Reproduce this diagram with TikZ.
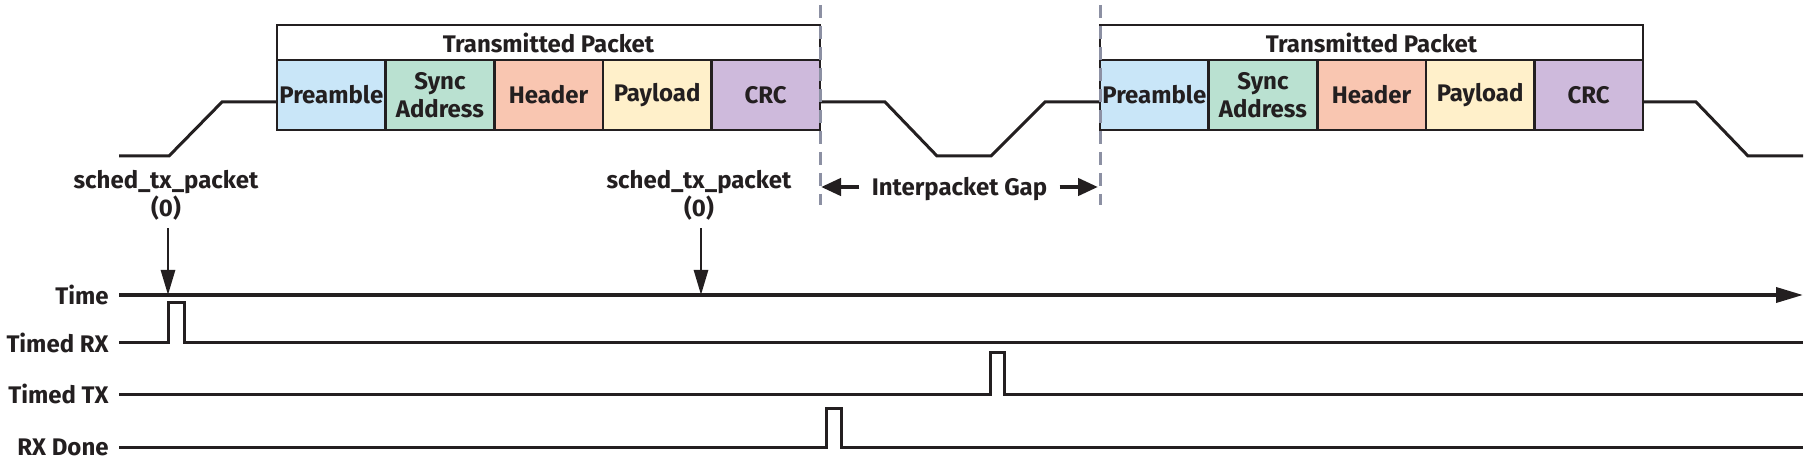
\documentclass[tikz,border=0pt]{standalone}
\usepackage{fontspec}
\setmainfont{Fira Sans}
\usetikzlibrary{positioning,arrows.meta}

\definecolor{preC}{HTML}{C9E6F8}
\definecolor{syncC}{HTML}{BAE1D1}
\definecolor{headC}{HTML}{F9C6B1}
\definecolor{payC}{HTML}{FFF0CA}
\definecolor{crcC}{HTML}{CEBADC}
\definecolor{gapC}{HTML}{8C90A3}
\definecolor{inkC}{HTML}{231F20}

\tikzset{
    txt/.style={font=\bfseries\fontsize{12}{14}\selectfont, text=inkC},
    pkthead/.style={txt, draw=inkC, line width=1.3pt, fill=white, outer sep=0pt,
        minimum width=271.5pt, minimum height=17.5pt, inner sep=0pt},
    field/.style={txt, draw=inkC, line width=1.3pt, outer sep=0pt, align=center,
        minimum width=54.3pt, minimum height=35pt, inner sep=0pt},
    sig/.style={draw=inkC, line width=1.5pt, line join=miter},
    signame/.style={txt, anchor=east, inner sep=5pt},
    gapline/.style={draw=gapC, line width=1.5pt, dash pattern=on 6.5pt off 4pt},
    gaparrow/.style={draw=inkC, line width=2.2pt, -{Triangle[length=10pt,width=8.5pt]}},
    schedarrow/.style={draw=inkC, line width=1.4pt, -{Triangle[length=12.5pt,width=7pt]}},
}

\begin{document}
\begin{tikzpicture}[x=0.5pt,y=-0.5pt]
    \useasboundingbox (0,0) rectangle (1808,459);

    %packet waveform, drawn first so that the boxes cover its ends
    \draw[sig] (119,156) -- (169,156) -- (222,102) -- (277,102);
    \draw[sig] (821,102) -- (885,102) -- (937,156) -- (991,156) -- (1045,102) -- (1100,102);
    \draw[sig] (1643,102) -- (1696,102) -- (1748,156) -- (1803,156);

    %first packet
    \node[pkthead, anchor=north west] (head1) at (277,25) {Transmitted Packet};
    \node[field, fill=preC, anchor=north west] (pre1) at (head1.south west) {Preamble};
    \node[field, fill=syncC, right=0pt of pre1] (sync1) {Sync\\Address};
    \node[field, fill=headC, right=0pt of sync1] (hdr1) {Header};
    \node[field, fill=payC, right=0pt of hdr1] (pay1) {Payload};
    \node[field, fill=crcC, right=0pt of pay1] (crc1) {CRC};

    %second packet
    \node[pkthead, anchor=north west] (head2) at (1100,25) {Transmitted Packet};
    \node[field, fill=preC, anchor=north west] (pre2) at (head2.south west) {Preamble};
    \node[field, fill=syncC, right=0pt of pre2] (sync2) {Sync\\Address};
    \node[field, fill=headC, right=0pt of sync2] (hdr2) {Header};
    \node[field, fill=payC, right=0pt of hdr2] (pay2) {Payload};
    \node[field, fill=crcC, right=0pt of pay2] (crc2) {CRC};

    %interpacket gap
    \draw[gapline] (820,5) -- (820,205);
    \draw[gapline] (1100,5) -- (1100,205);
    \coordinate (gapL) at (821,187);
    \coordinate (gapR) at (1098,187);
    \node[txt, inner sep=6pt, text height=8.2pt, text depth=0pt] (gaplbl) at (959.5,187) {Interpacket Gap};
    \draw[gaparrow] (gaplbl.west) -- (gapL);
    \draw[gaparrow] (gaplbl.east) -- (gapR);

    %signal names
    \node[signame] (timeL) at (119,295) {Time};
    \node[signame] (rxL) at (119,343) {Timed RX};
    \node[signame] (txL) at (119,394) {Timed TX};
    \node[signame] (doneL) at (119,447) {RX Done};

    %time axis and the two calls
    \coordinate (t1) at (168,295);
    \coordinate (t2) at (701,295);
    \coordinate (tEnd) at (1803,295);
    \draw[sig, line width=1.8pt, -{Triangle[length=13.5pt,width=7.5pt]}] (timeL.east) -- (tEnd);
    \node[txt, align=center, inner sep=4pt] (sched1) at (166,195) {sched\_tx\_packet\\(0)};
    \node[txt, align=center, inner sep=4pt] (sched2) at (699,195) {sched\_tx\_packet\\(0)};
    \draw[schedarrow] (sched1.south -| t1) -- (t1);
    \draw[schedarrow] (sched2.south -| t2) -- (t2);

    %pulses
    \draw[sig] (rxL.east) -- (168,343) -- (168,303) -- (184,303) -- (184,343) -- (1803,343);
    \draw[sig] (txL.east) -- (990,394) -- (990,353) -- (1004,353) -- (1004,394) -- (1803,394);
    \draw[sig] (doneL.east) -- (826,447) -- (826,408) -- (841,408) -- (841,447) -- (1803,447);
\end{tikzpicture}
\end{document}
